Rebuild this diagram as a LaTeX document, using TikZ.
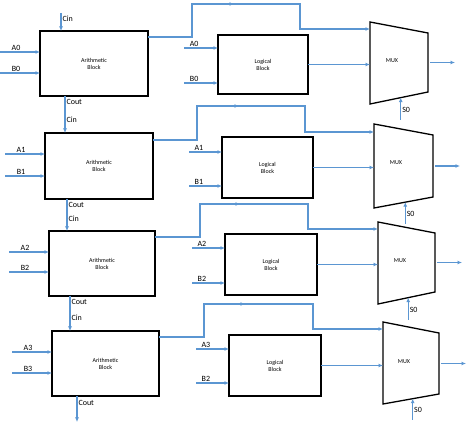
\documentclass[tikz,border=0pt]{standalone}
\usepackage{fontspec}
\setmainfont{Carlito}
\usepackage{xcolor}
\usetikzlibrary{arrows.meta,calc,positioning}
\definecolor{wireblue}{RGB}{91,150,210}

\begin{document}
\begin{tikzpicture}[x=1pt,y=-1pt,
  block/.style={draw,line width=1.3pt,align=center,font=\fontsize{6}{7}\selectfont,inner sep=0pt,outer sep=0pt},
  sig/.style={color=wireblue,line width=1.1pt,-{Latex[length=4.5pt,width=4pt]}},
  lbl/.style={text=black,font=\fontsize{8}{8}\selectfont,inner sep=1pt},
  muxline/.style={draw,line width=1.3pt,line join=miter},
  muxtxt/.style={font=\fontsize{6}{7}\selectfont,inner sep=0pt}]
\useasboundingbox (0,0) rectangle (474,427);

% stage 0
\node[block,minimum width=108pt,minimum height=65pt] (a0) at (94,63.5) {Arithmetic\\Block};
\node[block,minimum width=90pt,minimum height=59pt] (l0) at (263,64.5) {Logical\\Block};
\coordinate (m0tl) at (370,22);
\coordinate (m0tr) at (428,33);
\coordinate (m0br) at (428,92);
\coordinate (m0bl) at (370,104);
\draw[muxline] (m0tl) -- (m0tr) -- (m0br) -- (m0bl) -- cycle;
\node[muxtxt] (m0) at ($(m0tl)+(22,39)$) {MUX};
\draw[sig] ($(a0.north west)+(21,-18)$) coordinate (a0c) -- node[lbl,right,pos=0.3]{Cin} (a0c |- a0.north);
\draw[sig] ($(a0.north west)+(-40,21)$) coordinate (a0A) -- node[lbl,above,pos=0.4]{A0} (a0A -| a0.west);
\draw[sig] ($(a0.north west)+(-40,42)$) coordinate (a0B) -- node[lbl,above,pos=0.4]{B0} (a0B -| a0.west);
\draw[sig] ($(l0.north west)+(-34,13)$) coordinate (l0A) -- node[lbl,above,pos=0.3]{A0} (l0A -| l0.west);
\draw[sig] ($(l0.north west)+(-34,48)$) coordinate (l0B) -- node[lbl,above,pos=0.3]{B0} (l0B -| l0.west);
\draw[sig] ($(a0.north east)+(0,6)$) -| ($(a0.north east)+(44,-27)$) coordinate (t0) -- ++(42,0);
\draw[sig] (t0) -- ++(108,0) |- ($(m0tl)+(0,7)$);
\draw[sig] (l0.east) -- (l0.east -| m0tl);
\draw[sig] ($(m0tr)!0.5!(m0br)+(2,0)$) -- ++(25,0) coordinate (m0out);
\draw[sig] ($(m0bl)!0.53!(m0br)+(0,22)$) coordinate (m0s) -- node[lbl,right,pos=0.45]{S0} ($(m0bl)!0.53!(m0br)$);

% stage 1
\node[block,minimum width=108pt,minimum height=66pt] (a1) at (99,166) {Arithmetic\\Block};
\node[block,minimum width=91pt,minimum height=61pt] (l1) at (267.5,167.5) {Logical\\Block};
\coordinate (m1tl) at (374,124);
\coordinate (m1tr) at (433,135);
\coordinate (m1br) at (433,197);
\coordinate (m1bl) at (374,208);
\draw[muxline] (m1tl) -- (m1tr) -- (m1br) -- (m1bl) -- cycle;
\node[muxtxt] (m1) at ($(m1tl)+(22,39)$) {MUX};
\draw[sig] ($(a0.south west)+(25,0)$) coordinate (c01) -- node[lbl,right,pos=0.17]{Cout} node[lbl,right,pos=0.63]{Cin} (c01 |- a1.north);
\draw[sig] ($(a1.north west)+(-40,21)$) coordinate (a1A) -- node[lbl,above,pos=0.4]{A1} (a1A -| a1.west);
\draw[sig] ($(a1.north west)+(-40,43)$) coordinate (a1B) -- node[lbl,above,pos=0.4]{B1} (a1B -| a1.west);
\draw[sig] ($(l1.north west)+(-33,15)$) coordinate (l1A) -- node[lbl,above,pos=0.3]{A1} (l1A -| l1.west);
\draw[sig] ($(l1.north west)+(-33,49)$) coordinate (l1B) -- node[lbl,above,pos=0.3]{B1} (l1B -| l1.west);
\draw[sig] ($(a1.north east)+(0,7)$) -| ($(a1.north east)+(44,-27)$) coordinate (t1) -- ++(42,0);
\draw[sig] (t1) -- ++(108,0) |- ($(m1tl)+(0,8)$);
\draw[sig] (l1.east) -- (l1.east -| m1tl);
\draw[sig] ($(m1tr)!0.5!(m1br)+(2,0)$) -- ++(25,0) coordinate (m1out);
\draw[sig] ($(m1bl)!0.53!(m1br)+(0,22)$) coordinate (m1s) -- node[lbl,right,pos=0.45]{S0} ($(m1bl)!0.53!(m1br)$);

% stage 2
\node[block,minimum width=106pt,minimum height=65pt] (a2) at (102,263.5) {Arithmetic\\Block};
\node[block,minimum width=92pt,minimum height=61pt] (l2) at (271,264.5) {Logical\\Block};
\coordinate (m2tl) at (378,222);
\coordinate (m2tr) at (435,233);
\coordinate (m2br) at (435,292);
\coordinate (m2bl) at (378,304);
\draw[muxline] (m2tl) -- (m2tr) -- (m2br) -- (m2bl) -- cycle;
\node[muxtxt] (m2) at ($(m2tl)+(22,39)$) {MUX};
\draw[sig] ($(a1.south west)+(22,0)$) coordinate (c12) -- node[lbl,right,pos=0.17]{Cout} node[lbl,right,pos=0.63]{Cin} (c12 |- a2.north);
\draw[sig] ($(a2.north west)+(-40,21)$) coordinate (a2A) -- node[lbl,above,pos=0.4]{A2} (a2A -| a2.west);
\draw[sig] ($(a2.north west)+(-40,41)$) coordinate (a2B) -- node[lbl,above,pos=0.4]{B2} (a2B -| a2.west);
\draw[sig] ($(l2.north west)+(-33,14)$) coordinate (l2A) -- node[lbl,above,pos=0.3]{A2} (l2A -| l2.west);
\draw[sig] ($(l2.north west)+(-33,49)$) coordinate (l2B) -- node[lbl,above,pos=0.3]{B2} (l2B -| l2.west);
\draw[sig] ($(a2.north east)+(0,6)$) -| ($(a2.north east)+(45,-27)$) coordinate (t2) -- ++(40,0);
\draw[sig] (t2) -- ++(108,0) |- ($(m2tl)+(0,7)$);
\draw[sig] (l2.east) -- (l2.east -| m2tl);
\draw[sig] ($(m2tr)!0.5!(m2br)+(2,0)$) -- ++(25,0) coordinate (m2out);
\draw[sig] ($(m2bl)!0.53!(m2br)+(0,22)$) coordinate (m2s) -- node[lbl,right,pos=0.45]{S0} ($(m2bl)!0.53!(m2br)$);

% stage 3
\node[block,minimum width=107pt,minimum height=65pt] (a3) at (105.5,363.5) {Arithmetic\\Block};
\node[block,minimum width=92pt,minimum height=61pt] (l3) at (275,365.5) {Logical\\Block};
\coordinate (m3tl) at (383,322);
\coordinate (m3tr) at (439,333);
\coordinate (m3br) at (439,394);
\coordinate (m3bl) at (383,404);
\draw[muxline] (m3tl) -- (m3tr) -- (m3br) -- (m3bl) -- cycle;
\node[muxtxt] (m3) at ($(m3tl)+(21,40)$) {MUX};
\draw[sig] ($(a2.south west)+(21,0)$) coordinate (c23) -- node[lbl,right,pos=0.17]{Cout} node[lbl,right,pos=0.63]{Cin} (c23 |- a3.north);
\draw[sig] ($(a3.north west)+(-40,21)$) coordinate (a3A) -- node[lbl,above,pos=0.4]{A3} (a3A -| a3.west);
\draw[sig] ($(a3.north west)+(-40,42)$) coordinate (a3B) -- node[lbl,above,pos=0.4]{B3} (a3B -| a3.west);
\draw[sig] ($(l3.north west)+(-33,14)$) coordinate (l3A) -- node[lbl,above,pos=0.3]{A3} (l3A -| l3.west);
\draw[sig] ($(l3.north west)+(-33,48)$) coordinate (l3B) -- node[lbl,above,pos=0.3]{B2} (l3B -| l3.west);
\draw[sig] ($(a3.north east)+(0,6)$) -| ($(a3.north east)+(45,-27)$) coordinate (t3) -- ++(41,0);
\draw[sig] (t3) -- ++(109,0) |- ($(m3tl)+(0,7)$);
\draw[sig] (l3.east) -- (l3.east -| m3tl);
\draw[sig] ($(m3tr)!0.5!(m3br)+(2,0)$) -- ++(25,0) coordinate (m3out);
\draw[sig] ($(m3bl)!0.53!(m3br)+(0,21)$) coordinate (m3s) -- node[lbl,right,pos=0.45]{S0} ($(m3bl)!0.53!(m3br)$);
\draw[sig] ($(a3.south west)+(25,0)$) coordinate (a3co) -- node[lbl,right,pos=0.25]{Cout} ++(0,26);
\end{tikzpicture}
\end{document}
